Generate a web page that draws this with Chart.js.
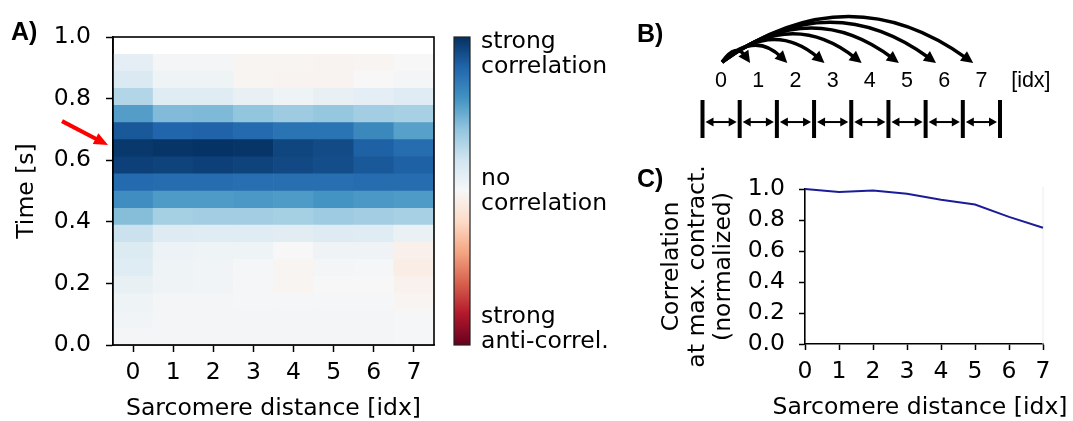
<!DOCTYPE html>
<html><head>
<meta charset="UTF-8">
<title>Sarcomere correlation</title>
<script src="https://cdn.jsdelivr.net/npm/chart.js"></script>
<style>
    body { margin: 0; background: #fff; }
    #fig { position: relative; width: 1073px; height: 421px; overflow: hidden; }
    .panel { position: absolute; }
    .tag { position: absolute; font: bold 25px 'Liberation Sans', Arial, sans-serif; line-height: 1; color: #000; }
</style>
</head>
<body>
<div id="fig">
    <div class="panel" style="left:0;top:0;width:630px;height:421px"><canvas id="heatChart"></canvas></div>
    <div class="panel" style="left:630px;top:0;width:443px;height:150px"><canvas id="schemeChart"></canvas></div>
    <div class="panel" style="left:630px;top:150px;width:443px;height:271px"><canvas id="lineChart"></canvas></div>
    <div class="tag" style="left:11px;top:19px">A)</div>
    <div class="tag" style="left:637px;top:21px">B)</div>
    <div class="tag" style="left:637px;top:166px">C)</div>
</div>

<script>
    // sarcomere distance (columns) and time bins (rows, lower edges + top edge)
    const distances = [0, 1, 2, 3, 4, 5, 6, 7];
    const timeEdges = [0.000, 0.056, 0.111, 0.167, 0.222, 0.278, 0.333, 0.389, 0.444,
                       0.500, 0.556, 0.611, 0.667, 0.722, 0.778, 0.833, 0.889, 0.944];
    const timeTicks = [0, 0.2, 0.4, 0.6, 0.8, 1.0];
    const corrTicks = [0, 0.2, 0.4, 0.6, 0.8, 1.0];

    // correlation per time bin (bottom row first), one value per distance
    const corrRows = [
        [0.02, 0.02, 0.02, 0.02, 0.02, 0.02, 0.02, 0.01],
        [0.03, 0.02, 0.02, 0.02, 0.02, 0.02, 0.02, 0.01],
        [0.05, 0.02, 0.02, 0.01, 0.01, 0.01, 0.01, -0.02],
        [0.08, 0.04, 0.03, 0.01, -0.02, 0.00, 0.00, -0.04],
        [0.12, 0.05, 0.03, 0.01, -0.02, 0.02, 0.01, -0.07],
        [0.14, 0.06, 0.05, 0.05, 0.00, 0.04, 0.04, -0.05],
        [0.22, 0.13, 0.12, 0.12, 0.11, 0.13, 0.12, 0.07],
        [0.43, 0.34, 0.35, 0.35, 0.34, 0.36, 0.35, 0.33],
        [0.62, 0.57, 0.57, 0.58, 0.57, 0.60, 0.58, 0.57],
        [0.78, 0.77, 0.77, 0.76, 0.76, 0.76, 0.77, 0.77],
        [0.94, 0.93, 0.94, 0.93, 0.91, 0.89, 0.85, 0.82],
        [0.97, 0.98, 0.99, 0.98, 0.92, 0.90, 0.82, 0.77],
        [0.85, 0.80, 0.81, 0.78, 0.74, 0.74, 0.65, 0.55],
        [0.56, 0.44, 0.45, 0.40, 0.36, 0.39, 0.35, 0.33],
        [0.30, 0.12, 0.12, 0.08, 0.05, 0.08, 0.10, 0.12],
        [0.15, 0.05, 0.05, -0.02, -0.03, -0.03, 0.00, 0.02],
        [0.10, 0.02, 0.02, -0.02, -0.02, -0.03, -0.02, 0.00]
    ];

    // panel C: normalized correlation at maximal contraction
    const corrAtMax = [1.00, 0.98, 0.99, 0.97, 0.93, 0.90, 0.82, 0.75];

    // colorbar tick positions and texts
    const cbTicks = [0.89, 0, -0.9];
    const cbLabels = [['strong', 'correlation'], ['no', 'correlation'], ['strong', 'anti-correl.']];

    const rdbuStops = ['#67001f', '#b2182b', '#d6604d', '#f4a582', '#fddbc7', '#f7f7f7',
                       '#d1e5f0', '#92c5de', '#4393c3', '#2166ac', '#053061'];

    function hexRgb(h) {
        return [1, 3, 5].map(i => parseInt(h.slice(i, i + 2), 16));
    }

    function rdbu(v) {
        const t = Math.min(1, Math.max(0, (v + 1) / 2)) * 10;
        const i = Math.min(9, Math.floor(t));
        const f = t - i;
        const a = hexRgb(rdbuStops[i]), b = hexRgb(rdbuStops[i + 1]);
        const c = a.map((x, k) => Math.round(x + (b[k] - x) * f));
        return `rgb(${c[0]},${c[1]},${c[2]})`;
    }

    function arrowHead(ctx, tx, ty, ux, uy, len, half) {
        ctx.beginPath();
        ctx.moveTo(tx, ty);
        ctx.lineTo(tx - ux * len - uy * half, ty - uy * len + ux * half);
        ctx.lineTo(tx - ux * len + uy * half, ty - uy * len - ux * half);
        ctx.closePath();
        ctx.fill();
    }

    const dejavu = "'DejaVu Sans', sans-serif";
    const tickFont = { family: dejavu, size: 23.5 };
    const titleFont = { family: dejavu, size: 23.5, lineHeight: 1 };

    // frame, colorbar and red marker for panel A
    const heatExtras = {
        id: 'heatExtras',
        afterDraw(chart) {
            const { ctx, chartArea: a, scales: { y } } = chart;
            ctx.save();
            ctx.strokeStyle = '#000';
            ctx.lineWidth = 1.6;
            ctx.strokeRect(a.left, a.top, a.right - a.left, a.bottom - a.top);

            // colorbar
            const cx = a.right + 20, cw = 16;
            const g = ctx.createLinearGradient(0, a.bottom, 0, a.top);
            rdbuStops.forEach((c, i) => g.addColorStop(i / 10, c));
            ctx.fillStyle = g;
            ctx.fillRect(cx, a.top, cw, a.bottom - a.top);
            ctx.lineWidth = 1.2;
            ctx.strokeStyle = '#222';
            ctx.strokeRect(cx, a.top, cw, a.bottom - a.top);

            ctx.fillStyle = '#000';
            ctx.font = `23.5px ${dejavu}`;
            ctx.textAlign = 'left';
            ctx.textBaseline = 'middle';
            cbTicks.forEach((v, i) => {
                const yc = a.bottom - (v + 1) / 2 * (a.bottom - a.top);
                cbLabels[i].forEach((line, j) => {
                    ctx.fillText(line, cx + cw + 11, yc + (j - 0.5) * 25);
                });
            });

            // red arrow pointing at maximal contraction
            const tipX = a.left - 5, tipY = y.getPixelForValue(0.649);
            const tailX = a.left - 51, tailY = tipY - 24;
            const len = Math.hypot(tipX - tailX, tipY - tailY);
            const ux = (tipX - tailX) / len, uy = (tipY - tailY) / len;
            ctx.strokeStyle = '#ff0000';
            ctx.fillStyle = '#ff0000';
            ctx.lineWidth = 4;
            ctx.beginPath();
            ctx.moveTo(tailX, tailY);
            ctx.lineTo(tipX - ux * 10, tipY - uy * 10);
            ctx.stroke();
            arrowHead(ctx, tipX, tipY, ux, uy, 14, 6);
            ctx.restore();
        }
    };

    new Chart(document.getElementById('heatChart'), {
        type: 'bar',
        data: {
            labels: distances.map(String),
            datasets: corrRows.map((row, r) => ({
                data: row.map(() => [timeEdges[r], timeEdges[r + 1] !== undefined ? timeEdges[r + 1] : 1]),
                backgroundColor: row.map(rdbu),
                borderWidth: 0,
                grouped: false,
                barPercentage: 1,
                categoryPercentage: 1
            }))
        },
        options: {
            responsive: true,
            maintainAspectRatio: false,
            animation: false,
            layout: { padding: { left: 0, top: 37, right: 196, bottom: 0 } },
            plugins: { legend: { display: false }, tooltip: { enabled: false } },
            scales: {
                x: {
                    grid: { offset: false, drawOnChartArea: false, tickLength: 7, tickColor: '#000', tickWidth: 1.5 },
                    border: { color: '#000', width: 1.6 },
                    ticks: { color: '#000', font: tickFont, padding: 7, maxRotation: 0, autoSkip: false },
                    title: { display: true, text: 'Sarcomere distance [idx]', color: '#000', font: titleFont, padding: { top: 0, bottom: 0 } },
                    afterFit: s => { s.height = 76; }
                },
                y: {
                    min: 0,
                    max: 1,
                    afterBuildTicks: s => { s.ticks = timeTicks.map(v => ({ value: v })); },
                    grid: { drawOnChartArea: false, tickLength: 7, tickColor: '#000', tickWidth: 1.5 },
                    border: { color: '#000', width: 1.6 },
                    ticks: { color: '#000', font: tickFont, padding: 15, autoSkip: false, callback: v => v.toFixed(1) },
                    title: { display: true, text: 'Time [s]', color: '#000', font: { family: dejavu, size: 23.5 }, padding: { top: 13, bottom: 0 } },
                    afterFit: s => { s.width = 113; }
                }
            }
        },
        plugins: [heatExtras]
    });

    // panel B: arcs from index 0 to each distance, and the sarcomere ruler
    const schemeExtras = {
        id: 'schemeExtras',
        afterDraw(chart) {
            const { ctx, scales: { x, y } } = chart;
            ctx.save();
            ctx.strokeStyle = '#000';
            ctx.fillStyle = '#000';

            const baseY = x.top + 2;
            const sx = x.getPixelForValue(0) + 1;
            distances.slice(1).forEach(k => {
                const tx = x.getPixelForValue(k - 0.22), ty = baseY + 1;
                const rise = 4 + 5.8 * k;
                const cxp = (sx + tx) / 2, cyp = baseY - 2 * rise;
                const len = Math.hypot(tx - cxp, ty - cyp);
                const ux = (tx - cxp) / len, uy = (ty - cyp) / len;
                ctx.lineWidth = 3.5;
                ctx.beginPath();
                ctx.moveTo(sx, baseY);
                ctx.quadraticCurveTo(cxp, cyp, tx - ux * 8, ty - uy * 8);
                ctx.stroke();
                arrowHead(ctx, tx, ty, ux, uy, 12, 6);
            });

            // ruler
            const top = y.getPixelForValue(1), bot = y.getPixelForValue(0);
            const midY = y.getPixelForValue(0.42);
            ctx.lineWidth = 4;
            for (let j = 0; j <= distances.length; j++) {
                const px = x.getPixelForValue(j - 0.5);
                ctx.beginPath();
                ctx.moveTo(px, top);
                ctx.lineTo(px, bot);
                ctx.stroke();
            }
            ctx.lineWidth = 2;
            distances.forEach(d => {
                const l = x.getPixelForValue(d - 0.5) + 3, r = x.getPixelForValue(d + 0.5) - 3;
                ctx.beginPath();
                ctx.moveTo(l + 5, midY);
                ctx.lineTo(r - 5, midY);
                ctx.stroke();
                arrowHead(ctx, r, midY, 1, 0, 8, 4.5);
                arrowHead(ctx, l, midY, -1, 0, 8, 4.5);
            });

            ctx.font = "21.5px 'Liberation Sans', Arial, sans-serif";
            ctx.textAlign = 'left';
            ctx.textBaseline = 'middle';
            ctx.fillText('[idx]', x.getPixelForValue(7.8), x.bottom - 19);
            ctx.restore();
        }
    };

    new Chart(document.getElementById('schemeChart'), {
        type: 'scatter',
        data: { datasets: [] },
        options: {
            responsive: true,
            maintainAspectRatio: false,
            animation: false,
            layout: { padding: { left: 72.5, right: 73, top: 60, bottom: 12 } },
            plugins: { legend: { display: false }, tooltip: { enabled: false } },
            scales: {
                x: {
                    type: 'linear',
                    position: 'top',
                    min: -0.5,
                    max: 7.5,
                    afterBuildTicks: s => { s.ticks = distances.map(v => ({ value: v })); },
                    grid: { display: false, drawTicks: false },
                    border: { display: false },
                    ticks: { color: '#000', font: { family: "'Liberation Sans', Arial, sans-serif", size: 21.5 }, padding: 6, maxRotation: 0, autoSkip: false },
                    afterFit: s => { s.height = 40; }
                },
                y: { display: false, min: 0, max: 1 }
            }
        },
        plugins: [schemeExtras]
    });

    // faint right edge and x title of panel C
    const lineExtras = {
        id: 'lineExtras',
        beforeDatasetsDraw(chart) {
            const { ctx, chartArea: a } = chart;
            ctx.save();
            ctx.strokeStyle = '#ececec';
            ctx.lineWidth = 1;
            ctx.beginPath();
            ctx.moveTo(a.right, a.top - 2);
            ctx.lineTo(a.right, a.bottom);
            ctx.stroke();
            ctx.restore();
        },
        afterDraw(chart) {
            const { ctx, chartArea: a } = chart;
            ctx.save();
            ctx.fillStyle = '#000';
            ctx.font = `23.5px ${dejavu}`;
            ctx.textAlign = 'center';
            ctx.textBaseline = 'middle';
            ctx.fillText('Sarcomere distance [idx]', (a.left + a.right) / 2 - 4, chart.height - 13);
            ctx.restore();
        }
    };

    new Chart(document.getElementById('lineChart'), {
        type: 'line',
        data: {
            datasets: [{
                data: distances.map((d, i) => ({ x: d, y: corrAtMax[i] })),
                borderColor: '#1c1c99',
                borderWidth: 2,
                pointRadius: 0,
                tension: 0,
                clip: 4
            }]
        },
        options: {
            responsive: true,
            maintainAspectRatio: false,
            animation: false,
            layout: { padding: { left: 0, top: 39, right: 30, bottom: 0 } },
            plugins: { legend: { display: false }, tooltip: { enabled: false } },
            scales: {
                x: {
                    type: 'linear',
                    min: 0,
                    max: 7,
                    afterBuildTicks: s => { s.ticks = distances.map(v => ({ value: v })); },
                    grid: { drawOnChartArea: false, tickLength: 6, tickColor: '#000', tickWidth: 1.5 },
                    border: { color: '#000', width: 1.6 },
                    ticks: { color: '#000', font: tickFont, padding: 8, maxRotation: 0, autoSkip: false },
                    afterFit: s => { s.height = 77; }
                },
                y: {
                    min: 0,
                    max: 1,
                    afterBuildTicks: s => { s.ticks = corrTicks.map(v => ({ value: v })); },
                    grid: { drawOnChartArea: false, tickLength: 6, tickColor: '#000', tickWidth: 1.5 },
                    border: { color: '#000', width: 1.6 },
                    ticks: { color: '#000', font: tickFont, padding: 14, autoSkip: false, callback: v => v.toFixed(1) },
                    title: {
                        display: true,
                        text: ['Correlation', 'at max. contract.', '(normalized)'],
                        color: '#000',
                        font: { family: dejavu, size: 23.5, lineHeight: 1.1 },
                        padding: { top: 29, bottom: 0 }
                    },
                    afterFit: s => { s.width = 175; }
                }
            }
        },
        plugins: [lineExtras]
    });
</script>
</body></html>
